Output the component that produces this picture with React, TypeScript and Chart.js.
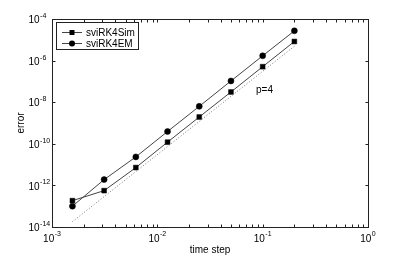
import { useEffect, useRef } from "react";
import { Chart, registerables } from "chart.js";

Chart.register(...registerables);

// ---- data ----
const timeSteps = [0.2, 0.1, 0.05, 0.025, 0.0125, 0.00625, 0.003125, 0.0015625];
const errSim = [8.3e-6, 5.1e-7, 3.1e-8, 1.94e-9, 1.2e-10, 7.2e-12, 5.6e-13, 1.85e-13];
const errEM = [2.7e-5, 1.7e-6, 1.05e-7, 6.3e-9, 3.9e-10, 2.35e-11, 1.9e-12, 1.0e-13];
const refSteps = [0.0015625, 0.2];
const refErr = [1.8e-14, 4.9e-6];
const seriesNames = ["sviRK4Sim", "sviRK4EM"];
const xTicks = [1e-3, 1e-2, 1e-1, 1];
const xTickExp = ["-3", "-2", "-1", "0"];
const yTicks = [1e-4, 1e-6, 1e-8, 1e-10, 1e-12, 1e-14];
const yTickExp = ["-4", "-6", "-8", "-10", "-12", "-14"];
const xLabel = "time step";
const yLabel = "error";
const slopeLabel = "p=4";

const FONT = "'Liberation Sans', Arial, Helvetica, sans-serif";
const AXIS = "#222";

const overlay = {
  id: "matlabOverlay",
  afterDatasetsDraw(chart: any) {
    const ctx: CanvasRenderingContext2D = chart.ctx;
    const ca = chart.chartArea;
    const xs = chart.scales.x;
    const ys = chart.scales.y;
    ctx.save();
    const L = Math.round(ca.left) + 0.5;
    const R = Math.round(ca.right) + 0.5;
    const T = Math.round(ca.top) + 0.5;
    const B = Math.round(ca.bottom) + 0.5;
    ctx.strokeStyle = AXIS;
    ctx.lineWidth = 1;
    ctx.strokeRect(L, T, R - L, B - T);

    // x ticks (major + minor) top and bottom
    const tl = 3;
    ctx.beginPath();
    for (let d = -3; d <= 0; d++) {
      for (let m = 1; m <= 9; m++) {
        const v = m * Math.pow(10, d);
        if (v > 1.0000001) continue;
        const px = Math.round(xs.getPixelForValue(v)) + 0.5;
        ctx.moveTo(px, B);
        ctx.lineTo(px, B - tl);
        ctx.moveTo(px, T);
        ctx.lineTo(px, T + tl);
      }
    }
    // y ticks left and right
    yTicks.forEach((v) => {
      const py = Math.round(ys.getPixelForValue(v)) + 0.5;
      ctx.moveTo(L, py);
      ctx.lineTo(L + tl, py);
      ctx.moveTo(R, py);
      ctx.lineTo(R - tl, py);
    });
    ctx.stroke();

    // tick labels
    ctx.fillStyle = "#000";
    ctx.textBaseline = "middle";
    ctx.textAlign = "left";
    const bigFont = `10px ${FONT}`;
    const smallFont = `7px ${FONT}`;
    yTicks.forEach((v, i) => {
      const py = ys.getPixelForValue(v);
      ctx.font = bigFont;
      ctx.fillText("10", 28.5, py + 1.5);
      const w = ctx.measureText("10").width;
      ctx.font = smallFont;
      ctx.fillText(yTickExp[i], 28.5 + w + 0.5, py - 3);
    });
    xTicks.forEach((v, i) => {
      const px = xs.getPixelForValue(v);
      ctx.font = bigFont;
      const w1 = ctx.measureText("10").width;
      ctx.font = smallFont;
      const w2 = ctx.measureText(xTickExp[i]).width;
      const start = px - (w1 + w2 + 0.5) / 2;
      ctx.font = bigFont;
      ctx.fillText("10", start, 239);
      ctx.font = smallFont;
      ctx.fillText(xTickExp[i], start + w1 + 0.5, 234);
    });

    // axis labels
    ctx.font = `10px ${FONT}`;
    ctx.textAlign = "center";
    ctx.fillText(xLabel, (ca.left + ca.right) / 2, 250);
    ctx.save();
    ctx.translate(21, (ca.top + ca.bottom) / 2);
    ctx.rotate(-Math.PI / 2);
    ctx.fillText(yLabel, 0, 0);
    ctx.restore();

    // slope annotation
    ctx.textAlign = "left";
    ctx.fillText(slopeLabel, 256, 90);

    // legend
    const bx = 56.5, by = 22.5, bw = 82, bh = 27;
    ctx.fillStyle = "#fff";
    ctx.fillRect(bx, by, bw, bh);
    ctx.strokeStyle = AXIS;
    ctx.strokeRect(bx, by, bw, bh);
    const rows = [32.5, 43.5];
    seriesNames.forEach((name, i) => {
      const y = rows[i];
      ctx.strokeStyle = "#444";
      ctx.beginPath();
      ctx.moveTo(62, y);
      ctx.lineTo(82, y);
      ctx.stroke();
      ctx.fillStyle = "#000";
      if (i === 0) {
        ctx.fillRect(72 - 2.5, y - 2.5, 5, 5);
      } else {
        ctx.beginPath();
        ctx.arc(72, y, 3, 0, Math.PI * 2);
        ctx.fill();
      }
      ctx.font = `10px ${FONT}`;
      ctx.textAlign = "left";
      ctx.textBaseline = "middle";
      ctx.fillText(name, 86, y + 0.5);
    });
    ctx.restore();
  },
};

export default function App() {
  const ref = useRef<HTMLCanvasElement | null>(null);
  useEffect(() => {
    document.body.style.margin = "0";
    const canvas = ref.current;
    if (!canvas) return;
    const chart = new Chart(canvas, {
      type: "line",
      data: {
        datasets: [
          {
            label: "p=4 reference",
            data: refSteps.map((x, i) => ({ x, y: refErr[i] })),
            borderColor: "#777",
            borderWidth: 1,
            borderDash: [1, 2],
            pointRadius: 0,
            fill: false,
          },
          {
            label: seriesNames[0],
            data: timeSteps.map((x, i) => ({ x, y: errSim[i] })),
            borderColor: "#444",
            borderWidth: 1,
            pointStyle: "rect",
            pointRadius: 3.4,
            pointBackgroundColor: "#000",
            pointBorderColor: "#000",
            pointBorderWidth: 0.5,
            fill: false,
          },
          {
            label: seriesNames[1],
            data: timeSteps.map((x, i) => ({ x, y: errEM[i] })),
            borderColor: "#444",
            borderWidth: 1,
            pointStyle: "circle",
            pointRadius: 3,
            pointBackgroundColor: "#000",
            pointBorderColor: "#000",
            pointBorderWidth: 0.5,
            fill: false,
          },
        ],
      },
      options: {
        animation: false,
        responsive: false,
        devicePixelRatio: 1,
        layout: { padding: { left: 52, top: 19, right: 39, bottom: 29 } },
        plugins: { legend: { display: false }, tooltip: { enabled: false } },
        scales: {
          x: { type: "logarithmic", min: 1e-3, max: 1, display: false },
          y: { type: "logarithmic", min: 1e-14, max: 1e-4, display: false },
        },
      },
      plugins: [overlay],
    } as any);
    return () => chart.destroy();
  }, []);
  return (
    <div style={{ width: 407, height: 256 }}>
      <canvas ref={ref} width={407} height={256} style={{ display: "block" }} />
    </div>
  );
}
